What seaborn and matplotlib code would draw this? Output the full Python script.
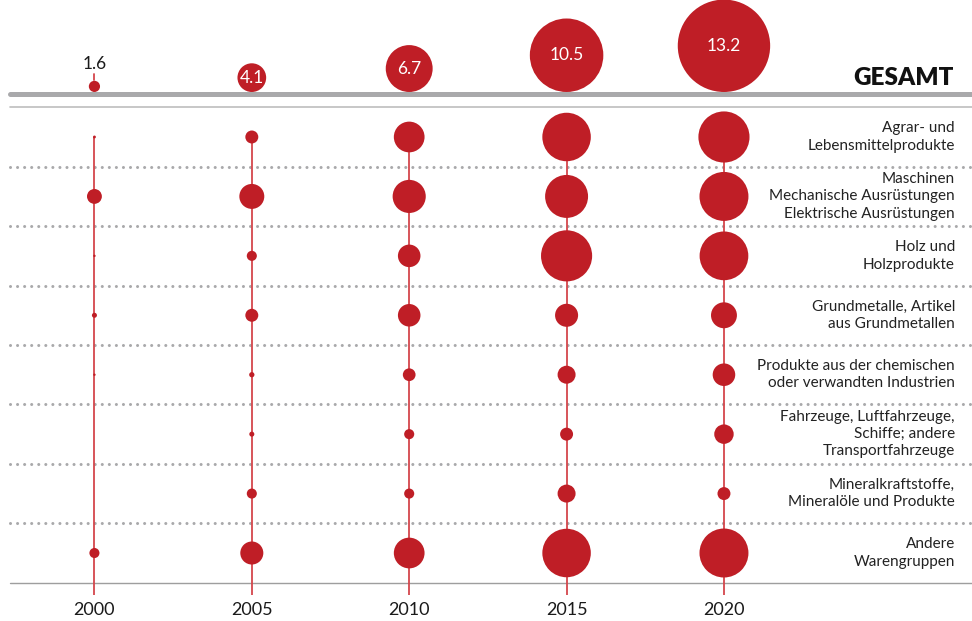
import matplotlib.pyplot as plt
import numpy as np
import pandas as pd
import seaborn as sns

# Daten
years = [2000, 2005, 2010, 2015, 2020]
totals = [1.6, 4.1, 6.7, 10.5, 13.2]

categories = [
    "Agrar- und\nLebensmittelprodukte",
    "Maschinen\nMechanische Ausrüstungen\nElektrische Ausrüstungen",
    "Holz und\nHolzprodukte",
    "Grundmetalle, Artikel\naus Grundmetallen",
    "Produkte aus der chemischen\noder verwandten Industrien",
    "Fahrzeuge, Luftfahrzeuge,\nSchiffe; andere\nTransportfahrzeuge",
    "Mineralkraftstoffe,\nMineralöle und Produkte",
    "Andere\nWarengruppen",
]
agrar = [0.12, 0.54, 1.28, 2.02, 2.13]
maschinen = [0.62, 1.04, 1.38, 1.79, 2.04]
holz = [0.10, 0.42, 0.94, 2.13, 2.03]
grundmetalle = [0.21, 0.54, 0.94, 0.96, 1.08]
chemie = [0.10, 0.22, 0.53, 0.75, 0.94]
fahrzeuge = [0.0, 0.21, 0.42, 0.54, 0.81]
mineral = [0.0, 0.42, 0.42, 0.75, 0.54]
andere = [0.42, 0.96, 1.28, 2.02, 2.04]

series = [agrar, maschinen, holz, grundmetalle, chemie, fahrzeuge, mineral, andere]

RED = "#BF1E26"
STEM = "#D4474C"
GREY = "#A9A9AB"

rows = []
for i, vals in enumerate(series):
    for yr, v in zip(years, vals):
        rows.append({"year": yr, "row": i, "value": v, "area": v ** 2})
df = pd.DataFrame(rows)

sns.set_theme(style="white")
plt.rcParams["font.family"] = ["Lato", "DejaVu Sans"]

W, H, DPI = 972, 621, 100
fig = plt.figure(figsize=(W / DPI, H / DPI), dpi=DPI)
ax = fig.add_axes([0, 0, 1, 1])
ax.set_xlim(1997.0, 2027.88)
ax.set_ylim(8.144, -2.305)
ax.axis("off")

ppu = H / (8.144 + 2.305)          # pixels per row unit
n = len(categories)
x0 = 10 / W                        # left start of the rules

# vertical stems
ax.vlines(years, 0, n - 0.5 + 0.2, color=STEM, lw=1.3, zorder=1)

# row separators
for k in range(n - 1):
    ax.axhline(k + 0.5, xmin=x0, xmax=1, color=GREY, lw=2.2,
               linestyle=(0, (0.01, 2.3)), dash_capstyle="round", zorder=0)
ax.axhline(-0.5, xmin=x0, xmax=1, color="#BDBDBD", lw=1.2, zorder=0)
ax.axhline(n - 0.5, xmin=x0, xmax=1, color="#9E9E9E", lw=1.0, zorder=0)

# category bubbles: radius proportional to value
k_cat = 12.0                       # px per unit (radius)
vmax = df["value"].max()
smax = (2 * k_cat * vmax * 0.72) ** 2
sns.scatterplot(data=df, x="year", y="row", size="area",
                sizes=(0, smax), size_norm=(0, vmax ** 2),
                color=RED, linewidth=0, legend=False, ax=ax, zorder=3)

# GESAMT row
line_y = -0.715
ax.axhline(line_y, xmin=x0, xmax=1, color=GREY, lw=3.6, zorder=2)
k_tot = 3.5
tot = pd.DataFrame({"year": years, "value": totals})
tot["r"] = tot["value"] * k_tot
tot["y"] = line_y - (2.5 + tot["r"]) / ppu
tot["s"] = (2 * tot["r"] * 0.72) ** 2
ax.scatter(tot["year"], tot["y"], s=tot["s"], color=RED, linewidth=0, zorder=3)
for _, r in tot.iterrows():
    if r["value"] < 2:
        ax.plot([r["year"]] * 2, [r["y"] - 6 / ppu, r["y"] - 12 / ppu],
                color=STEM, lw=1.3, zorder=2)
        ax.text(r["year"], r["y"] - 14 / ppu, f"{r['value']:.1f}",
                ha="center", va="bottom", fontsize=12.5, color="#1a1a1a")
    else:
        ax.text(r["year"], r["y"], f"{r['value']:.1f}", ha="center",
                va="center", fontsize=12.5, color="white", zorder=4)

trans = ax.get_yaxis_transform()
ax.text(0.981, -0.875, "GESAMT", transform=trans, ha="right", va="baseline",
        fontsize=17.5, fontweight="heavy", color="#111111")

for i, lab in enumerate(categories):
    ax.text(0.9825, i, lab, transform=trans, ha="right", va="center",
            fontsize=11, linespacing=1.3, color="#222222")

for yr in years:
    ax.text(yr, n - 0.5 + 0.46, str(yr), ha="center", va="center",
            fontsize=13, color="#1a1a1a")

fig.savefig("out.png", dpi=DPI)
